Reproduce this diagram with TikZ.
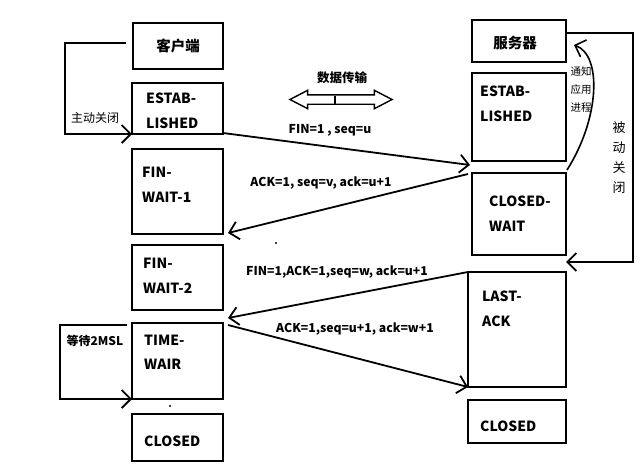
\documentclass[tikz,border=0pt]{standalone}
\usepackage{fontspec}
\setmainfont{Noto Sans CJK SC}
\usetikzlibrary{arrows.meta,calc,shapes.arrows}
\begin{document}
\begin{tikzpicture}[x=1pt,y=-1pt,
  box/.style={draw, line width=2.4pt, inner sep=0pt, outer sep=0pt},
  txt/.style={font=\bfseries\fontsize{14}{14}\selectfont, anchor=west, inner sep=0pt},
  lbl/.style={font=\bfseries\fontsize{12.2}{12.2}\selectfont, inner sep=0pt},
  cn/.style={font=\fontsize{12}{12}\selectfont, inner sep=0pt},
  cnbox/.style={font=\bfseries\fontsize{14.5}{14.5}\selectfont, inner sep=0pt},
  arr/.style={line width=1.8pt, -{Straight Barb[length=9pt,width=18pt]}}]
\useasboundingbox (0,0) rectangle (640,471);
% client column
\node[box, minimum width=90pt, minimum height=46pt] (cC) at (178,46) {};
\node[cnbox] (cCt) at (178,46) {客户端};
\node[box, minimum width=91pt, minimum height=51pt] (cE) at (177.5,108.5) {};
\node[txt] (cE1) at (146,98.5) {ESTAB-};
\node[txt] (cE2) at (146,123) {LISHED};
\node[box, minimum width=91pt, minimum height=85pt] (cF1) at (177.5,191.5) {};
\node[txt] (cF11) at (142,172) {FIN-};
\node[txt] (cF12) at (142,197) {WAIT-1};
\node[box, minimum width=91pt, minimum height=65pt] (cF2) at (177.5,277.5) {};
\node[txt] (cF21) at (143,263) {FIN-};
\node[txt] (cF22) at (143,288) {WAIT-2};
\node[box, minimum width=91pt, minimum height=76pt] (cT) at (177.5,361) {};
\node[txt] (cT1) at (144,340) {TIME-};
\node[txt] (cT2) at (144,364) {WAIR};
\node[box, minimum width=91pt, minimum height=47pt] (cCl) at (177.5,437.5) {};
\node[txt] (cClt) at (144,441) {CLOSED};
% server column
\node[box, minimum width=94pt, minimum height=42pt] (sS) at (519,41) {};
\node[cnbox] (sSt) at (515,43) {服务器};
\node[box, minimum width=94pt, minimum height=88pt] (sE) at (519,117) {};
\node[txt] (sE1) at (480,91.5) {ESTAB-};
\node[txt] (sE2) at (480,116.5) {LISHED};
\node[box, minimum width=94pt, minimum height=82pt] (sCW) at (519,214) {};
\node[txt] (sCW1) at (489,201.5) {CLOSED-};
\node[txt] (sCW2) at (489,226.5) {WAIT};
\node[box, minimum width=98pt, minimum height=115pt] (sLA) at (517,329.5) {};
\node[txt] (sLA1) at (482,296.5) {LAST-};
\node[txt] (sLA2) at (482,321.5) {ACK};
\node[box, minimum width=98pt, minimum height=43pt] (sCl) at (517,421.5) {};
\node[txt] (sClt) at (480,426.5) {CLOSED};
% loops
\draw[arr] ($(cC.west)+(-7,-3)$) -- ++(-61,0) |- (cE.south west);
\node[cn] (l1) at (95,118) {主动关闭};
\draw[arr] ($(cT.north west)+(-5,2)$) -- ++(-67,0) |- (cT.south west);
\node[cn, font=\bfseries\fontsize{12}{12}\selectfont] (l2) at (95,341) {等待2MSL};
\coordinate (rin) at ($(sCW.south east)+(0,7)$);
\draw[arr] ($(sS.east)+(0,-8)$) -- (633,33) |- (rin);
\foreach \c [count=\i] in {被,动,关,闭}
  \node[cn, font=\fontsize{13}{13}\selectfont] (r\i) at (619,108+20*\i) {\c};
\draw[arr, line width=1.6pt] ($(sCW.north east)+(1,-3)$) .. controls (600,118) and (602,55) .. ($(sS.east)+(8,4)$);
\node[cn, font=\fontsize{10.5}{10.5}\selectfont] (n1) at (581,71) {通知};
\node[cn, font=\fontsize{10.5}{10.5}\selectfont] (n2) at (581,90) {应用};
\node[cn, font=\fontsize{10.5}{10.5}\selectfont] (n3) at (581,108) {进程};
% data transfer
\node[double arrow, draw, line width=1.4pt, minimum height=102pt, inner sep=4pt,
  double arrow head extend=4.5pt, double arrow tip angle=55] (dt) at (341,99.5) {};
\draw[line width=1.4pt] ($(dt.center)+(-6,-4)$) -- ++(0,8);
\node[cn, font=\bfseries\fontsize{12.5}{12.5}\selectfont] (dtl) at (342,78) {数据传输};
% messages
\draw[arr] ($(cE.south east)+(0,-1)$) -- ($(sE.south west)+(-2,4)$);
\node[lbl] (m1) at (330,130) {FIN=1 , seq=u};
\draw[arr] ($(sCW.north west)+(-4,1)$) -- ($(cF1.south east)+(5,-1)$);
\node[lbl] (m2) at (321,183) {ACK=1, seq=v, ack=u+1};
\draw[arr] (sLA.north west) -- ($(cF2.south east)+(5,8)$);
\node[lbl] (m3) at (337,272) {FIN=1,ACK=1,seq=w, ack=u+1};
\draw[arr] ($(cT.north east)+(5,2)$) -- (sLA.south west);
\node[lbl] (m4) at (355,329) {ACK=1,seq=u+1, ack=w+1};
% specks
\fill (276,243) circle (1.2);
\fill (170,406) circle (1.2);
\end{tikzpicture}
\end{document}
